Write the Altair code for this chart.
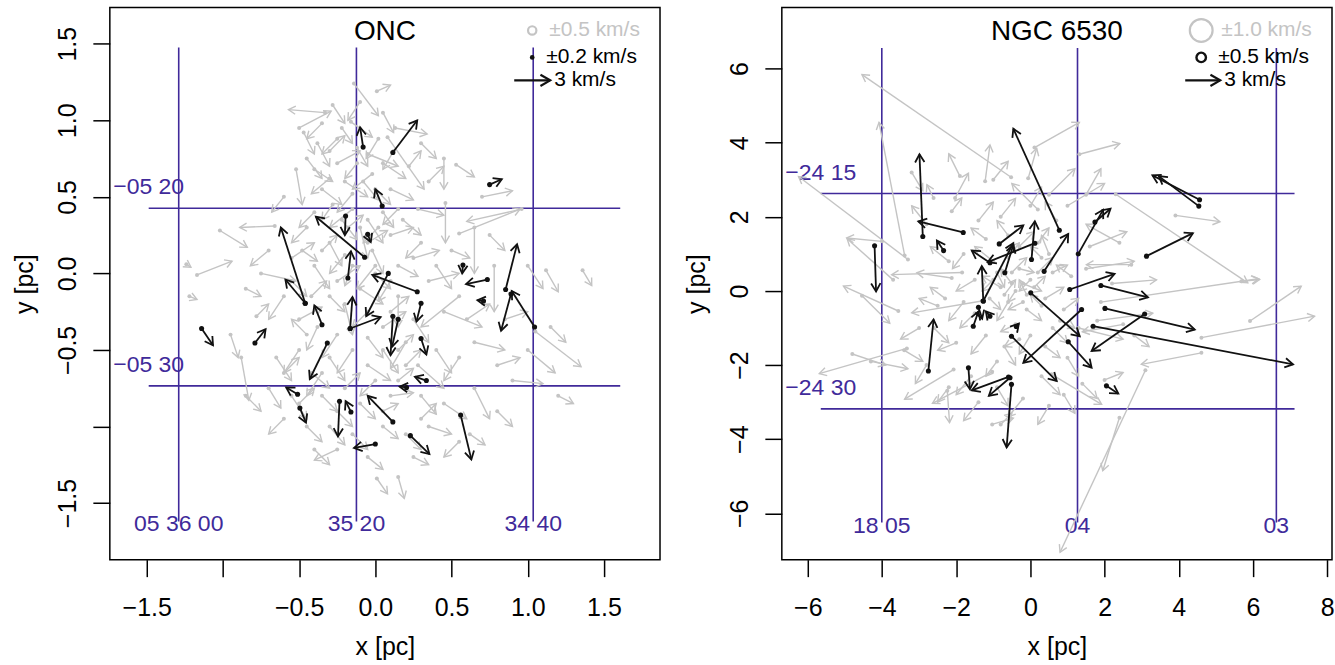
import math
import altair as alt
import pandas as pd

FONT = "Liberation Sans"
GREY = "#c4c4c4"
INK = "#111111"
PURPLE = "#402a9a"
HEAD = "M-1,-0.58L0,0L-1,0.58"

PANEL_W, PANEL_H = 551, 553

# ---------------- ONC (x0, y0, x1, y1 in pc) ----------------
onc_grey = [
    (-0.14, 1.24, 0.02, 1.03), (0.01, 1.19, 0.10, 1.23), (-0.33, 1.05, -0.57, 1.07),
    (-0.50, 0.95, -0.29, 1.06), (-0.16, 0.99, -0.02, 0.89), (0.13, 0.95, 0.34, 0.91),
    (0.08, 0.89, 0.32, 0.55), (-0.47, 0.92, -0.40, 0.78), (-0.38, 0.85, -0.30, 0.70),
    (-0.30, 0.80, -0.20, 0.90), (-0.45, 0.75, -0.35, 0.62), (-0.25, 0.72, -0.10, 0.80),
    (-0.05, 0.78, 0.15, 0.70), (-0.02, 0.65, -0.15, 0.55), (0.05, 0.72, 0.20, 0.62),
    (-0.52, 0.68, -0.48, 0.45), (-0.35, 0.55, -0.22, 0.45), (-0.20, 0.60, -0.05, 0.50),
    (0.10, 0.55, 0.25, 0.48), (0.45, 0.75, 0.45, 0.55), (0.53, 0.71, 0.65, 0.63),
    (0.70, 0.50, 0.90, 0.54), (0.96, 0.42, 0.60, 0.34), (0.46, 0.46, 0.46, 0.20),
    (0.55, 0.26, 0.95, 0.42), (0.28, 0.42, 0.45, 0.38), (-0.15, 0.42, -0.30, 0.30),
    (-0.05, 0.35, 0.05, 0.20), (-1.02, 0.28, -0.84, 0.17), (-0.66, 0.31, -0.89, 0.30),
    (-1.17, -0.01, -0.94, 0.08), (-1.24, 0.06, -1.21, 0.04), (-0.75, 0.00, -0.52, -0.05),
    (-0.55, 0.10, -0.40, 0.20), (-0.40, 0.05, -0.30, -0.10), (-0.30, 0.20, -0.22, 0.05),
    (-0.25, -0.05, -0.10, 0.05), (-0.10, 0.30, -0.05, 0.10), (-0.02, 0.15, 0.05, 0.00),
    (0.00, 0.05, -0.12, -0.10), (0.10, 0.25, 0.25, 0.30), (0.25, 0.10, 0.42, 0.15),
    (0.35, -0.05, 0.55, 0.00), (0.65, 0.30, 0.65, 0.00), (0.78, 0.05, 0.78, -0.25),
    (0.55, -0.15, 0.30, -0.35), (0.45, -0.25, 0.70, -0.35), (1.00, 0.05, 1.10, -0.10),
    (1.12, 0.02, 1.20, -0.12), (1.36, 0.02, 1.42, -0.08), (-0.60, -0.15, -0.70, -0.30),
    (-0.50, -0.30, -0.35, -0.22), (-0.38, -0.35, -0.45, -0.50), (-0.20, -0.20, -0.15, -0.40),
    (-0.10, -0.10, 0.05, -0.20), (0.05, -0.35, 0.20, -0.25), (0.15, -0.15, 0.15, -0.35),
    (0.25, -0.30, 0.35, -0.45), (-1.22, -0.15, -1.17, -0.17), (-0.78, -0.28, -0.70, -0.20),
    (-0.88, -0.55, -0.83, -0.83), (-0.65, -0.55, -0.55, -0.70), (-0.50, -0.50, -0.60, -0.65),
    (-0.42, -0.65, -0.30, -0.75), (-0.30, -0.55, -0.20, -0.70), (-0.15, -0.50, -0.25, -0.65),
    (-0.05, -0.60, 0.10, -0.70), (0.05, -0.50, 0.15, -0.65), (0.20, -0.45, 0.10, -0.62),
    (0.28, -0.60, 0.45, -0.75), (0.40, -0.50, 0.50, -0.65), (0.55, -0.55, 0.45, -0.70),
    (0.65, -0.45, 0.85, -0.50), (0.80, -0.60, 0.95, -0.55), (1.05, -0.38, 1.35, -0.61),
    (1.00, -0.50, 1.18, -0.65), (0.90, -0.70, 1.10, -0.72), (0.65, -0.75, 0.75, -0.95),
    (0.45, -0.85, 0.60, -0.95), (0.30, -0.80, 0.40, -0.92), (0.10, -0.80, 0.25, -0.78),
    (-0.10, -0.85, 0.00, -0.95), (-0.35, -0.80, -0.25, -0.90), (-0.55, -0.80, -0.45, -0.95),
    (-0.70, -0.75, -0.62, -0.88), (-0.45, -1.00, -0.35, -1.10), (-0.30, -1.00, -0.20, -1.12),
    (-0.15, -1.05, -0.05, -1.15), (0.05, -1.00, 0.15, -1.08), (0.20, -1.05, 0.30, -1.15),
    (0.35, -1.00, 0.50, -1.05), (0.01, -1.34, 0.08, -1.44), (0.15, -1.33, 0.19, -1.47),
    (-0.25, -1.15, -0.40, -1.22), (0.55, -1.10, 0.45, -1.20), (-0.12, 0.82, -0.05, 0.70),
    (-0.22, 0.95, -0.15, 0.85), (-0.08, 0.60, 0.02, 0.48), (-0.18, 0.30, -0.08, 0.38),
    (-0.05, 0.20, 0.08, 0.28), (0.05, 0.40, 0.12, 0.30), (-0.28, 0.45, -0.35, 0.35),
    (-0.35, 0.15, -0.25, 0.25), (-0.15, 0.05, -0.20, -0.08), (0.10, -0.05, 0.02, -0.18),
    (-0.42, -0.15, -0.32, -0.05), (0.22, 0.70, 0.30, 0.80), (-0.40, 0.40, -0.50, 0.30),
    (0.30, 0.20, 0.20, 0.10), (0.20, -0.60, 0.30, -0.50),
    (-0.28, 1.10, -0.20, 0.98), (-0.10, 1.12, -0.18, 1.00), (0.05, 1.05, 0.12, 0.92),
    (-0.35, 0.98, -0.45, 0.88), (-0.25, 0.88, -0.35, 0.78), (-0.12, 0.72, -0.20, 0.62),
    (0.02, 0.88, -0.06, 0.75), (0.12, 0.80, 0.05, 0.68), (-0.40, 0.68, -0.28, 0.60),
    (-0.30, 0.62, -0.42, 0.52), (-0.15, 0.52, -0.25, 0.40), (0.00, 0.55, 0.10, 0.45),
    (0.15, 0.42, 0.05, 0.32), (-0.45, 0.30, -0.55, 0.20), (-0.22, 0.35, -0.12, 0.22),
    (0.02, 0.30, -0.08, 0.20), (0.18, 0.35, 0.30, 0.25), (-0.48, 0.15, -0.38, 0.08),
    (-0.20, 0.12, -0.30, 0.00), (0.00, 0.00, 0.10, -0.10), (0.15, 0.05, 0.28, -0.02),
    (-0.55, -0.05, -0.45, -0.15), (-0.30, -0.15, -0.20, -0.25), (-0.05, -0.25, -0.15, -0.35),
    (0.10, -0.25, 0.22, -0.15), (-0.45, -0.40, -0.55, -0.30), (-0.25, -0.40, -0.35, -0.55),
    (-0.05, -0.42, 0.05, -0.55), (0.15, -0.50, 0.25, -0.40), (-0.60, -0.65, -0.50, -0.55),
    (-0.35, -0.65, -0.45, -0.80), (-0.20, -0.75, -0.10, -0.65), (0.00, -0.70, -0.10, -0.80),
    (0.15, -0.70, 0.25, -0.62), (-0.50, -0.85, -0.40, -0.75), (-0.25, -0.90, -0.15, -1.00),
    (0.05, -0.90, 0.15, -0.85), (0.30, -0.95, 0.40, -0.85), (-0.60, -0.95, -0.70, -1.05),
    (-0.40, -1.15, -0.30, -1.25), (-0.05, -1.20, 0.05, -1.28), (0.25, -1.20, 0.35, -1.25),
    (0.40, 0.05, 0.50, -0.10), (0.50, 0.15, 0.62, 0.10), (0.60, -0.30, 0.75, -0.20),
    (0.85, -0.30, 1.00, -0.25), (0.75, 0.25, 0.85, 0.15), (0.35, 0.60, 0.45, 0.70),
    (0.30, 0.85, 0.40, 0.75), (-0.60, 0.50, -0.68, 0.40), (-0.70, 0.15, -0.82, 0.05),
    (-0.85, -0.10, -0.75, -0.15), (-0.95, -0.40, -0.90, -0.55), (1.15, -0.35, 1.25, -0.45),
    (1.20, -0.80, 1.30, -0.85), (0.80, -0.90, 0.90, -1.00), (-0.85, -0.80, -0.75, -0.90),
    (0.62, -1.05, 0.72, -1.12),
]

onc_black = [
    (-0.08, 0.825, -0.10, 0.955), (0.115, 0.79, 0.275, 1.00), (0.045, 0.44, 0.00, 0.55),
    (0.75, 0.58, 0.83, 0.615), (-0.195, 0.375, -0.20, 0.25), (-0.07, 0.105, -0.39, 0.37),
    (-0.05, 0.255, -0.03, 0.205), (-0.46, -0.195, -0.62, 0.30), (-0.46, -0.195, -0.59, -0.04),
    (-0.35, -0.335, -0.40, -0.21), (-0.18, -0.03, -0.16, 0.145), (-0.165, -0.36, -0.15, -0.155),
    (-0.165, -0.36, 0.035, -0.285), (0.085, 0.00, -0.06, -0.28), (0.275, -0.12, -0.02, -0.01),
    (0.30, -0.195, 0.27, -0.315), (0.115, -0.28, 0.10, -0.535), (0.15, -0.30, 0.11, -0.48),
    (0.30, -0.425, 0.335, -0.53), (0.575, 0.055, 0.57, 0.00), (0.735, -0.04, 0.595, -0.07),
    (0.71, -0.18, 0.67, -0.175), (0.855, -0.105, 0.93, 0.19), (1.045, -0.35, 0.895, -0.115),
    (0.89, -0.135, 0.825, -0.375), (-0.315, -0.455, -0.43, -0.69), (-1.14, -0.36, -1.065, -0.47),
    (-0.79, -0.455, -0.72, -0.365), (-0.51, -0.79, -0.585, -0.745), (-0.495, -0.88, -0.455, -0.975),
    (-0.235, -0.835, -0.245, -1.065), (-0.16, -0.905, -0.195, -0.835), (0.115, -0.97, -0.05, -0.80),
    (0.00, -1.115, -0.14, -1.14), (0.23, -1.06, 0.355, -1.18), (0.56, -0.925, 0.63, -1.215),
    (0.335, -0.70, 0.26, -0.675), (0.205, -0.745, 0.16, -0.74),
]

onc_ra_x = [-1.29, -0.124, 1.036]
onc_ra_text = ["05 36 00", "35 20", "34 40"]
onc_ra_span = [-1.62, 1.475]
onc_dec_y = [0.426, -0.735]
onc_dec_text = ["\u221205 20", "\u221205 30"]
onc_dec_span = [-1.487, 1.607]
onc_ticks = [-1.5, -1.0, -0.5, 0.0, 0.5, 1.0, 1.5]

# ---------------- NGC 6530 (x0, y0, x1, y1 in pc) ----------------
ngc_grey = [
    (-0.52, 3.07, -4.54, 5.84), (-3.39, 0.96, -4.08, 4.55), (-3.30, 0.85, -6.25, 3.09),
    (0.11, 3.87, 1.32, 4.55), (1.32, 3.69, 2.41, 3.98), (3.91, 2.04, 5.11, 1.87),
    (2.30, 2.61, 5.86, 0.22), (5.92, -0.81, 7.30, 0.13), (4.61, -1.26, 7.66, -0.68),
    (4.61, -1.67, 2.99, -1.98), (3.10, -2.14, 0.80, -7.05), (2.40, -3.42, 1.95, -4.85),
    (-3.33, -1.55, -5.69, -2.23), (-3.56, -0.54, -5.04, 0.13), (-3.70, 0.30, -4.94, 1.41),
    (-2.07, -2.12, -3.39, -2.92), (-2.24, -2.69, -2.18, -3.55), (-1.84, 0.50, -3.74, 0.44),
    (-1.31, -0.27, -3.20, -0.59), (-2.12, 0.35, -3.06, 0.49), (-4.00, 1.34, -4.95, 1.43),
    (1.90, -0.30, 6.15, 0.33), (2.72, 0.71, 1.51, 0.71), (5.69, 0.26, 6.18, 0.31),
    (0.57, -2.25, 1.92, -3.06), (-1.22, 2.96, -1.09, 3.94), (-2.03, 2.51, -1.67, 3.18),
    (-2.12, 2.15, -1.85, 2.51), (-2.61, 2.51, -2.79, 2.87), (-0.06, 3.04, 0.17, 3.85),
    (-4.80, -1.70, -3.90, -2.00), (-4.30, -1.90, -3.30, -2.10), (-4.54, -0.13, -3.79, -0.87),
    (-1.03, -3.60, -0.46, -3.43), (-1.03, -2.18, -2.64, -3.03), (1.50, 0.60, 2.80, 0.80),
    (1.80, -0.80, 3.30, -0.60), (2.20, 0.20, 3.40, 0.30), (1.30, -1.00, 2.50, -1.30),
    (2.50, -0.90, 1.40, -1.10), (1.60, 1.20, 2.60, 1.60), (2.40, 1.30, 1.50, 1.80),
    (1.00, 2.30, 2.00, 2.90), (0.50, 2.60, 1.20, 3.30), (0.20, 2.20, -0.50, 2.90),
    (-0.50, 0.50, -0.10, 0.90), (-0.20, 0.20, 0.30, 0.00), (0.20, 0.50, 0.60, 0.90),
    (-0.80, 0.10, -1.30, 0.40), (-0.60, -0.30, -0.90, -0.80), (-0.10, -0.50, 0.30, -0.80),
    (0.40, -0.20, 0.90, 0.10), (-1.00, 0.80, -1.50, 1.20), (-0.30, 1.20, 0.10, 1.60),
    (0.50, 1.00, 0.30, 1.50), (-1.50, 0.30, -2.00, 0.00), (-1.80, -0.30, -2.20, -0.80),
    (-1.20, -1.20, -1.60, -1.70), (-0.70, -1.50, -0.40, -2.00), (0.00, -1.20, -0.30, -1.70),
    (0.60, -1.00, 1.00, -1.40), (0.90, -0.50, 1.30, -0.20), (-0.40, -0.90, -0.80, -1.10),
    (-2.20, 0.80, -2.70, 1.20), (-2.50, -0.40, -3.00, -0.20), (-2.00, -1.40, -2.50, -1.60),
    (-1.60, -2.30, -2.00, -2.80), (-0.90, -2.60, -0.60, -3.10), (0.30, -2.30, 0.80, -2.80),
    (0.90, -2.80, 1.20, -3.30), (1.40, -2.50, 1.80, -2.90), (-0.20, -2.90, -0.60, -3.40),
    (-3.00, -1.00, -3.50, -1.30), (-2.80, 1.80, -3.20, 2.30), (-1.40, 1.90, -1.00, 2.40),
    (-0.80, 2.00, -0.40, 2.50), (0.70, 1.90, 0.40, 2.40), (-0.10, -0.10, -0.30, 0.30),
    (0.10, 0.10, 0.40, 0.40), (-0.40, 0.00, -0.60, -0.30), (-0.90, 0.50, -0.70, 0.10),
    (-1.10, -0.20, -0.80, -0.50), (0.30, 0.90, 0.00, 1.20), (-0.60, 1.50, -0.90, 1.90),
    (1.10, 0.40, 0.70, 0.70), (-3.20, 3.20, -2.90, 2.70), (-1.00, 3.00, -0.60, 3.50),
    (-0.80, -3.60, -0.50, -3.30),
    (-0.50, 0.20, -0.80, 0.60), (-0.30, 0.60, 0.10, 0.50), (0.00, 0.30, -0.30, 0.00),
    (-0.70, -0.10, -0.40, 0.30), (-0.20, -0.30, -0.60, -0.50), (0.30, -0.40, 0.00, -0.10),
    (-1.00, 0.30, -1.30, 0.00), (-0.60, 0.90, -0.30, 1.30), (0.20, 1.30, 0.50, 1.70),
    (-1.20, 1.40, -1.60, 1.70), (-1.50, -0.60, -1.90, -1.00), (-0.30, -1.30, -0.70, -1.50),
    (0.40, -1.50, 0.80, -1.80), (1.00, -1.80, 1.30, -2.30), (-2.30, -0.20, -2.70, 0.10),
    (-2.60, -1.00, -2.20, -1.40), (-1.80, 1.00, -2.10, 0.60), (0.60, 0.50, 1.00, 0.70),
    (0.80, -0.80, 1.20, -1.00), (-0.90, -1.90, -1.20, -2.30), (-1.40, -3.00, -1.80, -3.50),
    (-2.80, -2.00, -3.10, -2.50), (-3.40, -1.60, -2.90, -1.90), (0.00, 2.30, 0.30, 2.80),
    (1.50, 2.60, 1.90, 3.30), (-1.90, 3.10, -2.20, 3.70), (-2.20, -2.60, -2.50, -3.00),
    (0.50, -3.10, 0.20, -3.60), (2.00, -2.40, 2.50, -2.20), (2.80, -1.20, 3.20, -1.50),
]

ngc_black = [
    (0.78, 1.64, -0.46, 4.38), (-2.90, 1.47, -2.99, 3.69), (-1.81, 1.58, -3.02, 1.88),
    (-4.20, 1.22, -4.16, -0.01), (-2.34, 1.09, -2.52, 1.36), (-1.09, 0.76, -1.58, 1.09),
    (-0.84, 1.27, -0.19, 1.77), (0.03, 0.85, 0.12, 1.88), (0.12, 1.29, -1.15, 0.78),
    (-1.27, -0.27, -0.46, 1.29), (-0.69, 0.49, -0.46, 1.25), (0.37, 0.53, 1.02, 1.54),
    (1.29, 1.00, 1.96, 2.19), (1.74, 1.86, 2.16, 2.22), (3.13, 0.94, 4.38, 1.56),
    (1.06, 0.04, 2.27, 0.46), (1.90, 0.15, 3.17, -0.17), (2.01, -0.47, 4.43, -1.04),
    (1.69, -0.95, 7.08, -1.98), (3.08, -0.62, 1.65, -1.62), (1.38, -0.50, -0.19, -1.94),
    (0.01, -0.05, 1.33, -1.22), (1.02, -1.37, 1.65, -2.07), (-0.51, -1.22, 0.71, -2.43),
    (-0.38, -0.96, -0.31, -0.88), (2.05, -2.56, 2.37, -2.77), (-2.75, -2.16, -2.61, -0.77),
    (-1.67, -2.07, -1.63, -2.65), (-0.59, -2.32, -1.58, -2.68), (-0.55, -2.34, -1.12, -2.83),
    (-0.51, -2.52, -0.64, -4.22), (-1.27, -0.27, -1.31, 0.67), (-1.54, -0.95, -1.40, -0.55),
    (4.56, 2.46, 3.29, 3.12), (4.54, 2.29, 3.46, 3.10), (-1.40, -0.44, -1.30, -0.75),
    (-1.09, -0.68, -1.20, -0.55),
]

ngc_ra_x = [-4.005, 1.27, 6.63]
ngc_ra_text = ["18 05", "04", "03"]
ngc_ra_span = [-6.25, 6.56]
ngc_dec_y = [2.63, -3.18]
ngc_dec_text = ["\u221224 15", "\u221224 30"]
ngc_dec_span = [-5.65, 7.12]
ngc_xticks = [-6, -4, -2, 0, 2, 4, 6, 8]
ngc_yticks = [-6, -4, -2, 0, 2, 4, 6]


def arrow_frame(arrows, sx, sy):
    rows = []
    for x0, y0, x1, y1 in arrows:
        ang = math.degrees(math.atan2(-(y1 - y0) * sy, (x1 - x0) * sx)) % 360
        rows.append({"x": x0, "y": y0, "x2": x1, "y2": y1, "ang": ang})
    return pd.DataFrame(rows)


def axis(values, expr, title, vertical):
    common = dict(
        values=values, labelExpr=expr, title=title, domain=False, grid=False,
        ticks=True, tickSize=17, tickWidth=1.5, tickColor="black",
        labelFont=FONT, labelFontSize=25, labelColor="black", labelOverlap=False,
        labelFlush=False, titleFont=FONT, titleFontSize=25, titleFontWeight="normal",
        titleColor="black",
    )
    if vertical:
        return alt.Axis(labelAngle=270, labelAlign="center", labelBaseline="bottom",
                        labelPadding=12, titlePadding=18, **common)
    return alt.Axis(labelAngle=0, labelPadding=19, titlePadding=14, **common)


def panel(title, grey, black, xdom, ydom, xticks, yticks, xexpr, yexpr,
          ra_x, ra_text, ra_span, dec_y, dec_text, dec_span, legend):
    sx = PANEL_W / (xdom[1] - xdom[0])
    sy = PANEL_H / (ydom[1] - ydom[0])
    xs = alt.Scale(domain=xdom, nice=False, zero=False)
    ys = alt.Scale(domain=ydom, nice=False, zero=False)
    xa = axis(xticks, xexpr, "x [pc]", False)
    ya = axis(yticks, yexpr, "y [pc]", True)

    def X(f):
        return alt.X(f, type="quantitative", scale=xs, axis=xa)

    def Y(f):
        return alt.Y(f, type="quantitative", scale=ys, axis=ya)

    ra = pd.DataFrame({"x": ra_x, "lo": ra_span[0], "hi": ra_span[1], "t": ra_text})
    dec = pd.DataFrame({"y": dec_y, "lo": dec_span[0], "hi": dec_span[1], "t": dec_text})

    layers = [
        alt.Chart(ra).mark_rule(color=PURPLE, strokeWidth=1.6).encode(
            x=X("x"), y=Y("lo"), y2="hi"),
        alt.Chart(dec).mark_rule(color=PURPLE, strokeWidth=1.6).encode(
            x=X("lo"), x2="hi", y=Y("y")),
        alt.Chart(ra).mark_text(color=PURPLE, font=FONT, fontSize=23, dy=3,
                                baseline="middle", align="center").encode(
            x=X("x"), y=Y("lo"), text="t:N"),
        alt.Chart(dec).mark_text(color=PURPLE, font=FONT, fontSize=23, dy=-21,
                                 baseline="middle", align="center").encode(
            x=X("lo"), y=Y("y"), text="t:N"),
    ]

    for arrows, col, lw, hs, dot in ((grey, GREY, 1.4, 200, 16), (black, INK, 1.8, 260, 26)):
        df = arrow_frame(arrows, sx, sy)
        layers += [
            alt.Chart(df).mark_rule(color=col, strokeWidth=lw).encode(
                x=X("x"), y=Y("y"), x2="x2", y2="y2"),
            alt.Chart(df).mark_point(shape=HEAD, filled=False, color=col, size=hs,
                                     strokeWidth=lw, opacity=1).encode(
                x=X("x2"), y=Y("y2"), angle=alt.Angle("ang:Q", scale=None)),
            alt.Chart(df).mark_circle(color=col, size=dot, opacity=1).encode(
                x=X("x"), y=Y("y")),
        ]

    one = pd.DataFrame({"k": [0]})
    lg = legend
    layers += [
        alt.Chart(one).mark_text(font=FONT, fontSize=28, color="black", align="center",
                                 baseline="middle").encode(
            x=alt.value(PANEL_W / 2), y=alt.value(25), text=alt.value(title)),
        alt.Chart(one).mark_point(shape="circle", filled=False, color=GREY,
                                  size=lg["grey_size"], strokeWidth=2.2, opacity=1).encode(
            x=alt.value(lg["sym_x"]), y=alt.value(23)),
        alt.Chart(one).mark_point(shape="circle", filled=lg["black_filled"], color=INK,
                                  size=lg["black_size"], strokeWidth=2.4, opacity=1).encode(
            x=alt.value(lg["sym_x"]), y=alt.value(50)),
        alt.Chart(one).mark_text(font=FONT, fontSize=21, color=GREY, align="left",
                                 baseline="middle").encode(
            x=alt.value(lg["text_x"]), y=alt.value(23), text=alt.value(lg["grey_text"])),
        alt.Chart(one).mark_text(font=FONT, fontSize=21, color="black", align="left",
                                 baseline="middle").encode(
            x=alt.value(lg["text_x"] - 3), y=alt.value(50), text=alt.value(lg["black_text"])),
        alt.Chart(one).mark_rule(color=INK, strokeWidth=2.2).encode(
            x=alt.value(lg["arrow_x"][0]), x2=alt.value(lg["arrow_x"][1]), y=alt.value(73)),
        alt.Chart(one).mark_point(shape=HEAD, filled=False, color=INK, size=380,
                                  strokeWidth=2.2, opacity=1).encode(
            x=alt.value(lg["arrow_x"][1]), y=alt.value(73)),
        alt.Chart(one).mark_text(font=FONT, fontSize=21, color="black", align="left",
                                 baseline="middle").encode(
            x=alt.value(lg["arrow_x"][1] + 4), y=alt.value(73), text=alt.value("3 km/s")),
    ]
    return alt.layer(*layers).properties(width=PANEL_W, height=PANEL_H)


onc_expr = "datum.value == -1 ? '' : format(datum.value, '.1f')"
ngc_expr = "format(datum.value, 'd')"

left = panel(
    "ONC", onc_grey, onc_black, [-1.742, 1.868], [-1.870, 1.737], onc_ticks, onc_ticks,
    onc_expr, onc_expr, onc_ra_x, onc_ra_text, onc_ra_span, onc_dec_y, onc_dec_text,
    onc_dec_span,
    {"sym_x": 423, "text_x": 440, "grey_size": 70, "black_size": 22, "black_filled": True,
     "grey_text": "\u00b10.5 km/s", "black_text": "\u00b10.2 km/s", "arrow_x": [405, 441]},
)
right = panel(
    "NGC 6530", ngc_grey, ngc_black, [-6.70, 8.13], [-7.25, 7.65], ngc_xticks, ngc_yticks,
    ngc_expr, ngc_expr, ngc_ra_x, ngc_ra_text, ngc_ra_span, ngc_dec_y, ngc_dec_text,
    ngc_dec_span,
    {"sym_x": 420, "text_x": 440, "grey_size": 520, "black_size": 90, "black_filled": False,
     "grey_text": "\u00b11.0 km/s", "black_text": "\u00b10.5 km/s", "arrow_x": [404, 439]},
)

chart = alt.hconcat(left, right, spacing=122, bounds="flush").properties(
    padding={"left": 12, "top": 6, "right": 0, "bottom": 0},
    background="white",
).configure_view(stroke="black", strokeWidth=1.5)

chart.save("out.html", embed_options={"renderer": "svg", "actions": False})
